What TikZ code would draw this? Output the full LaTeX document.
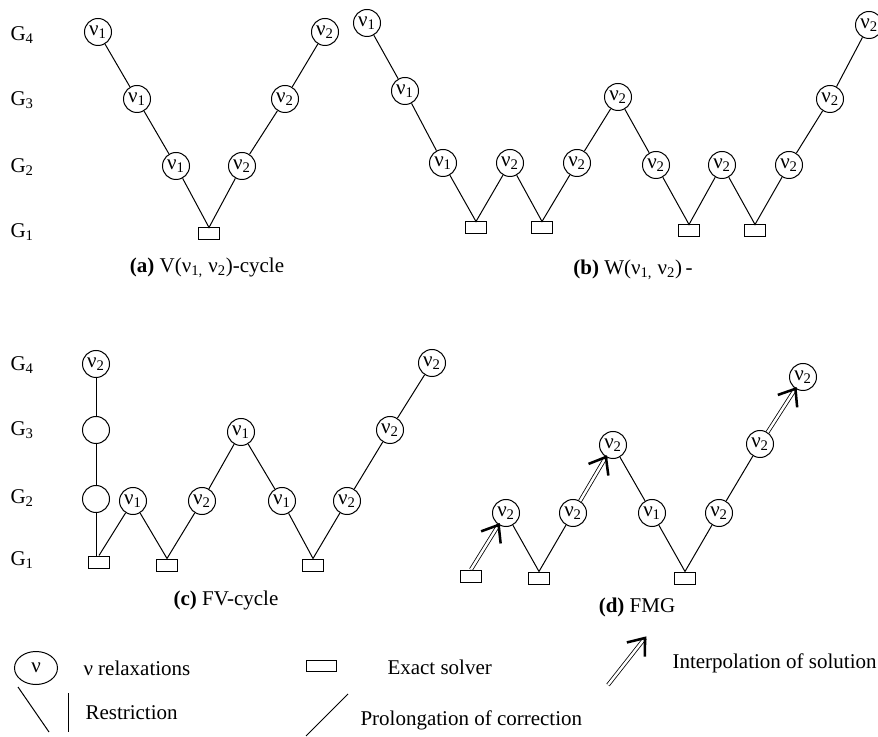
\documentclass[tikz,border=0pt]{standalone}
\usepackage{fontspec}
\setmainfont{Liberation Serif}
\usetikzlibrary{arrows.meta,calc,shapes.geometric}
\tikzset{every picture/.style={line width=0.75pt}}
\tikzset{
  relax/.style={draw, circle, minimum size=20.25pt, inner sep=0pt},
  solver/.style={draw, rectangle, minimum width=15.75pt, minimum height=9pt, inner sep=0pt},
  level label/.style={anchor=west, inner sep=0pt},
  legend text/.style={anchor=west, inner sep=0pt},
  interp/.style={double, double distance=1.8pt, line width=0.6pt},
  interp head/.style={line width=1.9pt}
}

\begin{document}
\begin{tikzpicture}[x=0.75pt,y=0.75pt,yscale=-1,xscale=1,font=\fontsize{15.75}{18}\selectfont]
\useasboundingbox (0,0) rectangle (878,737);

% Level labels, top row
\node[level label] (la4) at (10,35) {G\textsubscript{4}};
\node[level label] (la3) at (10,100) {G\textsubscript{3}};
\node[level label] (la2) at (10,167) {G\textsubscript{2}};
\node[level label] (la1) at (10,232) {G\textsubscript{1}};

% (a) V-cycle
\node[relax] (a1) at (98,32) {ν\textsubscript{1}};
\node[relax] (a2) at (137,99) {ν\textsubscript{1}};
\node[relax] (a3) at (176,166) {ν\textsubscript{1}};
\node[solver] (ab) at (209,234) {};
\node[relax] (a4) at (242,166) {ν\textsubscript{2}};
\node[relax] (a5) at (285,99) {ν\textsubscript{2}};
\node[relax] (a6) at (325,32) {ν\textsubscript{2}};
\draw (a1) -- (a2) -- (a3) -- (ab.north) -- (a4) -- (a5) -- (a6);
\node (capa) at (207,268) {\textbf{(a)} V(ν\textsubscript{1,} ν\textsubscript{2})-cycle};

% (b) W-cycle
\node[relax] (b1) at (367,23) {ν\textsubscript{1}};
\node[relax] (b2) at (405,91) {ν\textsubscript{1}};
\node[relax] (b3) at (443,163) {ν\textsubscript{1}};
\node[solver] (bb1) at (476,228) {};
\node[relax] (b4) at (510,163) {ν\textsubscript{2}};
\node[solver] (bb2) at (542,228) {};
\node[relax] (b5) at (577,163) {ν\textsubscript{2}};
\node[relax] (b6) at (618,97) {ν\textsubscript{2}};
\node[relax] (b7) at (656,165) {ν\textsubscript{2}};
\node[solver] (bb3) at (689,231) {};
\node[relax] (b8) at (722,165) {ν\textsubscript{2}};
\node[solver] (bb4) at (755,231) {};
\node[relax] (b9) at (789,165) {ν\textsubscript{2}};
\node[relax] (b10) at (830,99) {ν\textsubscript{2}};
\node[relax] (b11) at (869,25) {ν\textsubscript{2}};
\draw (b1) -- (b2) -- (b3) -- (bb1.north) -- (b4) -- (bb2.north) -- (b5) -- (b6)
      -- (b7) -- (bb3.north) -- (b8) -- (bb4.north) -- (b9) -- (b10) -- (b11);
\node (capb) at (633,270) {\textbf{(b)} W(ν\textsubscript{1,} ν\textsubscript{2})\,-};

% Level labels, bottom row
\node[level label] (lc4) at (10,365) {G\textsubscript{4}};
\node[level label] (lc3) at (10,430) {G\textsubscript{3}};
\node[level label] (lc2) at (10,498) {G\textsubscript{2}};
\node[level label] (lc1) at (10,560) {G\textsubscript{1}};

% (c) FV-cycle
\node[relax] (c1) at (96,364) {ν\textsubscript{2}};
\node[relax] (c2) at (96,430) {};
\node[relax] (c3) at (96,499) {};
\node[solver] (cb1) at (99,562) {};
\node[relax] (c4) at (133,501) {ν\textsubscript{1}};
\node[solver] (cb2) at (167,565) {};
\node[relax] (c5) at (202,501) {ν\textsubscript{2}};
\node[relax] (c6) at (241,432) {ν\textsubscript{1}};
\node[relax] (c7) at (282,501) {ν\textsubscript{1}};
\node[solver] (cb3) at (313,565) {};
\node[relax] (c8) at (347,501) {ν\textsubscript{2}};
\node[relax] (c9) at (390,430) {ν\textsubscript{2}};
\node[relax] (c10) at (432,363) {ν\textsubscript{2}};
\draw (c1) -- (c2) -- (c3) -- (c3 |- cb1.north);
\draw (cb1.north) -- (c4) -- (cb2.north) -- (c5) -- (c6) -- (c7) -- (cb3.north) -- (c8) -- (c9) -- (c10);
\node (capc) at (226,600) {\textbf{(c)} FV-cycle};

% (d) FMG
\node[solver] (db1) at (471,576) {};
\node[relax] (d1) at (506,513) {ν\textsubscript{2}};
\node[solver] (db2) at (539,578) {};
\node[relax] (d2) at (573,513) {ν\textsubscript{2}};
\node[relax] (d3) at (613,445) {ν\textsubscript{2}};
\node[relax] (d4) at (652,513) {ν\textsubscript{1}};
\node[solver] (db3) at (685,578) {};
\node[relax] (d5) at (719,513) {ν\textsubscript{2}};
\node[relax] (d6) at (760,444) {ν\textsubscript{2}};
\node[relax] (d7) at (803,377) {ν\textsubscript{2}};
\draw (d1) -- (db2.north) -- (d2);
\draw (d3) -- (d4) -- (db3.north) -- (d5) -- (d6);
\draw[interp] (db1.north) -- (d1) coordinate[pos=1] (t1);
\draw[interp] (d2) -- (d3) coordinate[pos=1] (t2);
\draw[interp] (d6) -- (d7) coordinate[pos=1] (t3);
\draw[interp head] ($(t1)!14pt!38:(db1.north)$) -- (t1) -- ($(t1)!14pt!-38:(db1.north)$);
\draw[interp head] ($(t2)!14pt!38:(d2)$) -- (t2) -- ($(t2)!14pt!-38:(d2)$);
\draw[interp head] ($(t3)!14pt!38:(d6)$) -- (t3) -- ($(t3)!14pt!-38:(d6)$);
\node (capd) at (637,607) {\textbf{(d)} FMG};

% Legend
\node[draw, ellipse, minimum width=32.25pt, minimum height=24.75pt, inner sep=0pt] (lrelax) at (36,668) {ν};
\node[legend text] (trelax) at (83,668) {ν relaxations};
\node[solver, minimum width=22.5pt, minimum height=8.25pt] (lsolver) at (321,666) {};
\node[legend text] (tsolver) at (387,667) {Exact solver};
\coordinate (ltail) at (608,685);
\coordinate (ltip) at (645,638);
\draw[interp] (ltail) -- (ltip);
\draw[interp head] ($(ltip)!14pt!38:(ltail)$) -- (ltip) -- ($(ltip)!14pt!-38:(ltail)$);
\node[legend text] (tinterp) at (672,663) {Interpolation of solution};
\coordinate (r1) at (18,687);
\coordinate (r2) at (49,732);
\coordinate (r3) at (68,693);
\coordinate (r4) at (68,732);
\draw (r1) -- (r2);
\draw (r3) -- (r4);
\node[legend text] (trestr) at (85,713) {Restriction};
\coordinate (p1) at (306,736);
\coordinate (p2) at (348,694);
\draw (p1) -- (p2);
\node[legend text] (tprol) at (360,720) {Prolongation of correction};

\end{tikzpicture}
\end{document}
